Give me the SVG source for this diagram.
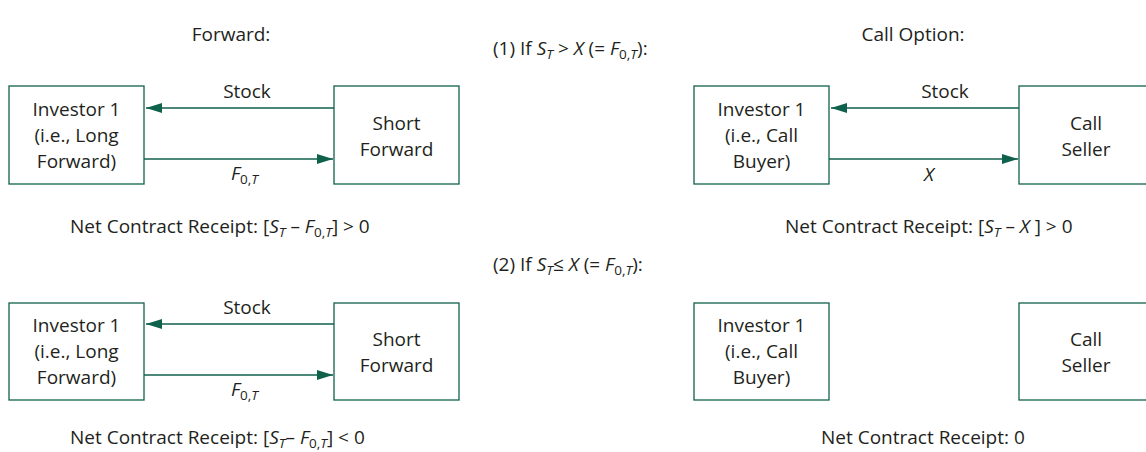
<svg xmlns="http://www.w3.org/2000/svg" width="1146" height="452" viewBox="0 0 1146 452">
<style>
text{font-family:"Open Sans","Noto Sans",sans-serif;font-size:19px;fill:#231f20}
.m{text-anchor:middle}
.box{fill:#fff;stroke:#10614c;stroke-width:1.3}
.ln{stroke:#10614c;stroke-width:1.3;fill:none}
.i{font-style:italic}
.s{font-size:13.5px}
</style>
<defs>
<marker id="ah" markerWidth="16" markerHeight="10" refX="16" refY="5" orient="auto" markerUnits="userSpaceOnUse">
<path d="M0,0 L16,5 L0,10 z" fill="#10614c"/>
</marker>
</defs>
<rect width="1146" height="452" fill="#fff"/>
<text class="m" x="231" y="41">Forward:</text>
<text class="m" x="913" y="41">Call Option:</text>
<text x="493" y="55">(1) If <tspan class="i">S</tspan><tspan class="i s" dy="4">T</tspan><tspan dy="-4"> &gt; </tspan><tspan class="i">X</tspan> (= <tspan class="i">F</tspan><tspan class="s" dy="4">0,</tspan><tspan class="i s">T</tspan><tspan dy="-4">):</tspan></text>
<text x="493" y="271">(2) If <tspan class="i">S</tspan><tspan class="i s" dy="4">T</tspan><tspan dy="-4">≤ </tspan><tspan class="i">X</tspan> (= <tspan class="i">F</tspan><tspan class="s" dy="4">0,</tspan><tspan class="i s">T</tspan><tspan dy="-4">):</tspan></text>
<g id="connectors">
<line class="ln" x1="334" y1="108" x2="146" y2="108" marker-end="url(#ah)"/>
<line class="ln" x1="144" y1="159" x2="333" y2="159" marker-end="url(#ah)"/>
<line class="ln" x1="1019" y1="108" x2="831" y2="108" marker-end="url(#ah)"/>
<line class="ln" x1="829" y1="159" x2="1018" y2="159" marker-end="url(#ah)"/>
<line class="ln" x1="334" y1="324" x2="146" y2="324" marker-end="url(#ah)"/>
<line class="ln" x1="144" y1="375" x2="333" y2="375" marker-end="url(#ah)"/>
<text class="m" x="247" y="98">Stock</text>
<text x="231" y="180"><tspan class="i">F</tspan><tspan class="s" dy="4">0,</tspan><tspan class="i s">T</tspan></text>
<text class="m" x="945" y="98">Stock</text>
<text class="m i" x="929" y="181">X</text>
<text class="m" x="247" y="314">Stock</text>
<text x="231" y="396"><tspan class="i">F</tspan><tspan class="s" dy="4">0,</tspan><tspan class="i s">T</tspan></text>
</g>
<g id="f1-investor"><rect class="box" x="9" y="86" width="135" height="98"/>
<text class="m" x="76.5" y="116">Investor 1</text><text class="m" x="76.5" y="142">(i.e., Long</text><text class="m" x="76.5" y="168">Forward)</text></g>
<g id="f1-short"><rect class="box" x="334" y="86" width="125" height="98"/>
<text class="m" x="396.5" y="130">Short</text><text class="m" x="396.5" y="156">Forward</text></g>
<g id="c1-investor"><rect class="box" x="694" y="86" width="135" height="98"/>
<text class="m" x="761.5" y="116">Investor 1</text><text class="m" x="761.5" y="142">(i.e., Call</text><text class="m" x="761.5" y="168">Buyer)</text></g>
<g id="c1-seller"><rect class="box" x="1019" y="86" width="140" height="98"/>
<text class="m" x="1086" y="130">Call</text><text class="m" x="1086" y="156">Seller</text></g>
<g id="f2-investor"><rect class="box" x="9" y="303" width="135" height="97"/>
<text class="m" x="76.5" y="332">Investor 1</text><text class="m" x="76.5" y="358">(i.e., Long</text><text class="m" x="76.5" y="384">Forward)</text></g>
<g id="f2-short"><rect class="box" x="334" y="303" width="125" height="97"/>
<text class="m" x="396.5" y="346">Short</text><text class="m" x="396.5" y="372">Forward</text></g>
<g id="c2-investor"><rect class="box" x="694" y="303" width="135" height="97"/>
<text class="m" x="761.5" y="332">Investor 1</text><text class="m" x="761.5" y="358">(i.e., Call</text><text class="m" x="761.5" y="384">Buyer)</text></g>
<g id="c2-seller"><rect class="box" x="1019" y="303" width="140" height="97"/>
<text class="m" x="1086" y="346">Call</text><text class="m" x="1086" y="372">Seller</text></g>
<text x="70" y="233">Net Contract Receipt: [<tspan class="i">S</tspan><tspan class="i s" dy="4">T</tspan><tspan dy="-4"> – </tspan><tspan class="i">F</tspan><tspan class="s" dy="4">0,</tspan><tspan class="i s">T</tspan><tspan dy="-4">] &gt; 0</tspan></text>
<text x="785" y="233">Net Contract Receipt: [<tspan class="i">S</tspan><tspan class="i s" dy="4">T</tspan><tspan dy="-4"> – </tspan><tspan class="i">X</tspan> ] &gt; 0</text>
<text x="70" y="444">Net Contract Receipt: [<tspan class="i">S</tspan><tspan class="i s" dy="4">T</tspan><tspan dy="-4">– </tspan><tspan class="i">F</tspan><tspan class="s" dy="4">0,</tspan><tspan class="i s">T</tspan><tspan dy="-4">] &lt; 0</tspan></text>
<text x="821" y="444">Net Contract Receipt: 0</text>
</svg>
